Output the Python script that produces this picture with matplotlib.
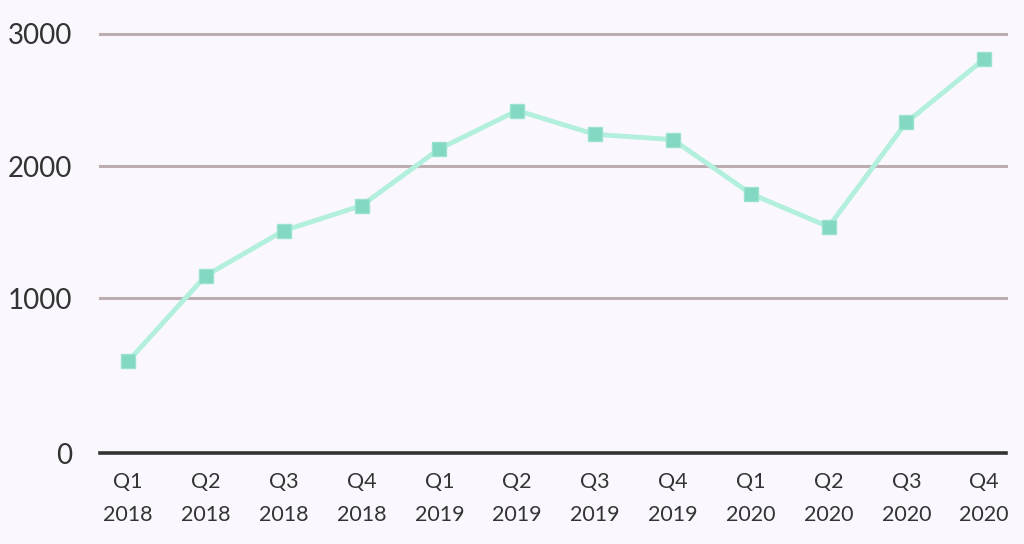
import matplotlib
matplotlib.use("Agg")
import matplotlib.pyplot as plt

quarters = ['Q1\n2018', 'Q2\n2018', 'Q3\n2018', 'Q4\n2018',
            'Q1\n2019', 'Q2\n2019', 'Q3\n2019', 'Q4\n2019',
            'Q1\n2020', 'Q2\n2020', 'Q3\n2020', 'Q4\n2020']
values = [520, 1170, 1510, 1700, 2130, 2420, 2240, 2200, 1790, 1540, 2330, 2810]
y_ticks = [1000, 2000, 3000]

bg = '#faf8fe'
plt.rcParams['font.family'] = ['Lato', 'DejaVu Sans']

fig = plt.figure(figsize=(10.24, 5.44), dpi=100, facecolor=bg)
ax = fig.add_axes([100 / 1024, (544 - 453) / 544, 906 / 1024, 419 / 544])
ax.set_facecolor(bg)

x = list(range(len(quarters)))
ax.plot(x, values, color='#b2efdc', linewidth=3.5, marker='s', markersize=10,
        markerfacecolor='#82d8c2', markeredgecolor='#9be3cf', zorder=3)

ax.set_xlim(-0.36, 11.28)
ax.set_ylim(-174, 3000)

# the zero baseline sits at the bottom of the plot area
ax.set_yticks([-174] + y_ticks)
ax.set_yticklabels(['0'] + [str(v) for v in y_ticks])
for v in y_ticks:
    ax.axhline(v, color='#bcaeb0', linewidth=2.2, zorder=1, clip_on=False)

ax.set_xticks(x)
ax.set_xticklabels(quarters, linespacing=1.8)

for s in ['top', 'right', 'left']:
    ax.spines[s].set_visible(False)
ax.spines['bottom'].set_color('#333333')
ax.spines['bottom'].set_linewidth(2.6)

ax.tick_params(axis='y', length=0, pad=20, labelsize=20, labelcolor='#333333')
ax.tick_params(axis='x', length=0, pad=14, labelsize=15.5, labelcolor='#333333')

fig.savefig('out.png', dpi=100, facecolor=bg)
